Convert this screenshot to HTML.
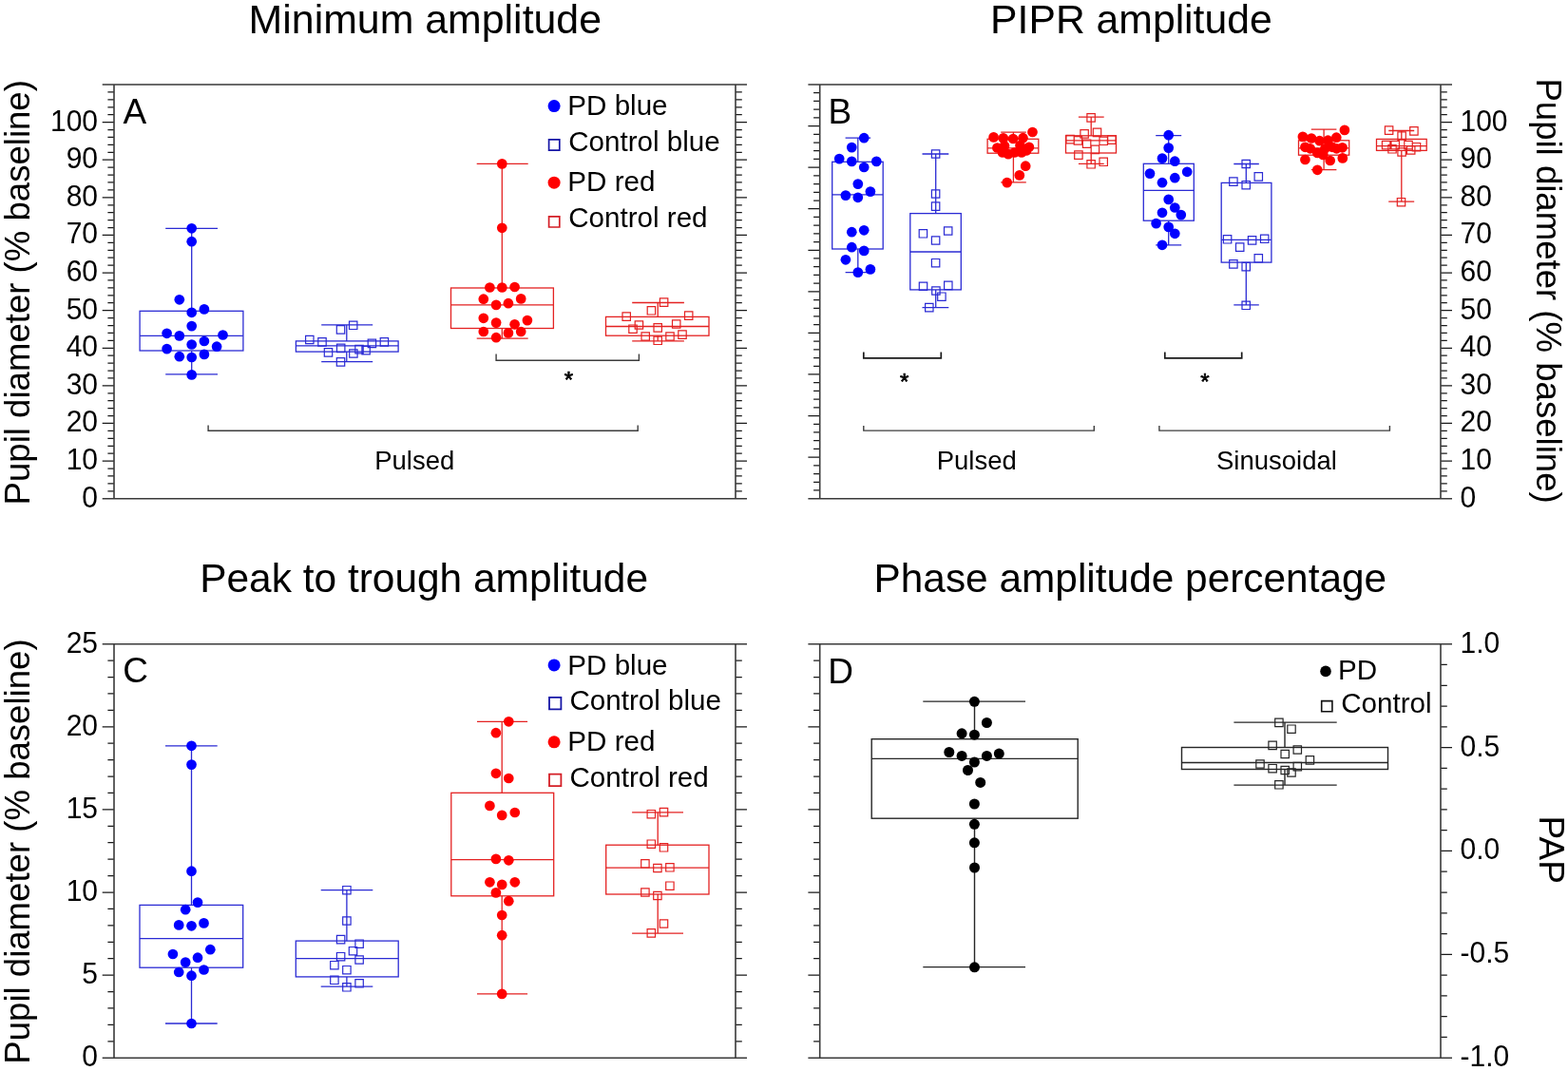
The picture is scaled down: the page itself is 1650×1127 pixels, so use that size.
<!DOCTYPE html>
<html><head><meta charset="utf-8"><title>Pupil figure</title>
<style>html,body{margin:0;padding:0;background:#fff;}svg{display:block;}</style></head>
<body><svg width="1650" height="1127" viewBox="0 0 1650 1127" font-family="'Liberation Sans', Arial, sans-serif" fill="#000">
<rect width="1650" height="1127" fill="#fff"/>
<text x="261.6" y="35.0" font-size="42.85">Minimum amplitude</text>
<text x="1042.1" y="34.9" font-size="42.7">PIPR amplitude</text>
<text x="210.2" y="623.3" font-size="42.45">Peak to trough amplitude</text>
<text x="919.5" y="623.1" font-size="42.4">Phase amplitude percentage</text>
<text x="129.4" y="130.0" font-size="37">A</text>
<text x="871.4" y="130.0" font-size="37">B</text>
<text x="129.2" y="718.2" font-size="37">C</text>
<text x="871.3" y="718.7" font-size="37">D</text>
<path d="M107.70 128.61H120.00M107.70 168.22H120.00M107.70 207.83H120.00M107.70 247.44H120.00M107.70 287.05H120.00M107.70 326.65H120.00M107.70 366.26H120.00M107.70 405.87H120.00M107.70 445.48H120.00M107.70 485.09H120.00M113.40 96.92H120.00M113.40 104.84H120.00M113.40 112.77H120.00M113.40 120.69H120.00M113.40 136.53H120.00M113.40 144.45H120.00M113.40 152.37H120.00M113.40 160.30H120.00M113.40 176.14H120.00M113.40 184.06H120.00M113.40 191.98H120.00M113.40 199.91H120.00M113.40 215.75H120.00M113.40 223.67H120.00M113.40 231.59H120.00M113.40 239.51H120.00M113.40 255.36H120.00M113.40 263.28H120.00M113.40 271.20H120.00M113.40 279.12H120.00M113.40 294.97H120.00M113.40 302.89H120.00M113.40 310.81H120.00M113.40 318.73H120.00M113.40 334.58H120.00M113.40 342.50H120.00M113.40 350.42H120.00M113.40 358.34H120.00M113.40 374.19H120.00M113.40 382.11H120.00M113.40 390.03H120.00M113.40 397.95H120.00M113.40 413.79H120.00M113.40 421.72H120.00M113.40 429.64H120.00M113.40 437.56H120.00M113.40 453.40H120.00M113.40 461.33H120.00M113.40 469.25H120.00M113.40 477.17H120.00M113.40 493.01H120.00M113.40 500.93H120.00M113.40 508.86H120.00M113.40 516.78H120.00M774.00 128.61H786.00M774.00 168.22H786.00M774.00 207.83H786.00M774.00 247.44H786.00M774.00 287.05H786.00M774.00 326.65H786.00M774.00 366.26H786.00M774.00 405.87H786.00M774.00 445.48H786.00M774.00 485.09H786.00M774.00 96.92H780.80M774.00 104.84H780.80M774.00 112.77H780.80M774.00 120.69H780.80M774.00 136.53H780.80M774.00 144.45H780.80M774.00 152.37H780.80M774.00 160.30H780.80M774.00 176.14H780.80M774.00 184.06H780.80M774.00 191.98H780.80M774.00 199.91H780.80M774.00 215.75H780.80M774.00 223.67H780.80M774.00 231.59H780.80M774.00 239.51H780.80M774.00 255.36H780.80M774.00 263.28H780.80M774.00 271.20H780.80M774.00 279.12H780.80M774.00 294.97H780.80M774.00 302.89H780.80M774.00 310.81H780.80M774.00 318.73H780.80M774.00 334.58H780.80M774.00 342.50H780.80M774.00 350.42H780.80M774.00 358.34H780.80M774.00 374.19H780.80M774.00 382.11H780.80M774.00 390.03H780.80M774.00 397.95H780.80M774.00 413.79H780.80M774.00 421.72H780.80M774.00 429.64H780.80M774.00 437.56H780.80M774.00 453.40H780.80M774.00 461.33H780.80M774.00 469.25H780.80M774.00 477.17H780.80M774.00 493.01H780.80M774.00 500.93H780.80M774.00 508.86H780.80M774.00 516.78H780.80" stroke="#1a1a1a" stroke-width="1.25" fill="none"/>
<path d="M107.70 89.00H786.00M107.70 524.70H786.00M120.00 89.00V524.70M774.00 89.00V524.70" stroke="#3a3a3a" stroke-width="1.6" fill="none"/>
<path d="M850.40 132.57H862.70M850.40 176.14H862.70M850.40 219.71H862.70M850.40 263.28H862.70M850.40 306.85H862.70M850.40 350.42H862.70M850.40 393.99H862.70M850.40 437.56H862.70M850.40 481.13H862.70M856.10 97.71H862.70M856.10 106.43H862.70M856.10 115.14H862.70M856.10 123.86H862.70M856.10 141.28H862.70M856.10 150.00H862.70M856.10 158.71H862.70M856.10 167.43H862.70M856.10 184.85H862.70M856.10 193.57H862.70M856.10 202.28H862.70M856.10 211.00H862.70M856.10 228.42H862.70M856.10 237.14H862.70M856.10 245.85H862.70M856.10 254.57H862.70M856.10 271.99H862.70M856.10 280.71H862.70M856.10 289.42H862.70M856.10 298.14H862.70M856.10 315.56H862.70M856.10 324.28H862.70M856.10 332.99H862.70M856.10 341.71H862.70M856.10 359.13H862.70M856.10 367.85H862.70M856.10 376.56H862.70M856.10 385.28H862.70M856.10 402.70H862.70M856.10 411.42H862.70M856.10 420.13H862.70M856.10 428.85H862.70M856.10 446.27H862.70M856.10 454.99H862.70M856.10 463.70H862.70M856.10 472.42H862.70M856.10 489.84H862.70M856.10 498.56H862.70M856.10 507.27H862.70M856.10 515.99H862.70M1516.00 128.61H1528.00M1516.00 168.22H1528.00M1516.00 207.83H1528.00M1516.00 247.44H1528.00M1516.00 287.05H1528.00M1516.00 326.65H1528.00M1516.00 366.26H1528.00M1516.00 405.87H1528.00M1516.00 445.48H1528.00M1516.00 485.09H1528.00M1516.00 96.92H1522.80M1516.00 104.84H1522.80M1516.00 112.77H1522.80M1516.00 120.69H1522.80M1516.00 136.53H1522.80M1516.00 144.45H1522.80M1516.00 152.37H1522.80M1516.00 160.30H1522.80M1516.00 176.14H1522.80M1516.00 184.06H1522.80M1516.00 191.98H1522.80M1516.00 199.91H1522.80M1516.00 215.75H1522.80M1516.00 223.67H1522.80M1516.00 231.59H1522.80M1516.00 239.51H1522.80M1516.00 255.36H1522.80M1516.00 263.28H1522.80M1516.00 271.20H1522.80M1516.00 279.12H1522.80M1516.00 294.97H1522.80M1516.00 302.89H1522.80M1516.00 310.81H1522.80M1516.00 318.73H1522.80M1516.00 334.58H1522.80M1516.00 342.50H1522.80M1516.00 350.42H1522.80M1516.00 358.34H1522.80M1516.00 374.19H1522.80M1516.00 382.11H1522.80M1516.00 390.03H1522.80M1516.00 397.95H1522.80M1516.00 413.79H1522.80M1516.00 421.72H1522.80M1516.00 429.64H1522.80M1516.00 437.56H1522.80M1516.00 453.40H1522.80M1516.00 461.33H1522.80M1516.00 469.25H1522.80M1516.00 477.17H1522.80M1516.00 493.01H1522.80M1516.00 500.93H1522.80M1516.00 508.86H1522.80M1516.00 516.78H1522.80" stroke="#1a1a1a" stroke-width="1.25" fill="none"/>
<path d="M850.40 89.00H1528.00M850.40 524.70H1528.00M862.70 89.00V524.70M1516.00 89.00V524.70" stroke="#3a3a3a" stroke-width="1.6" fill="none"/>
<path d="M107.70 764.80H120.00M107.70 851.90H120.00M107.70 939.00H120.00M107.70 1026.10H120.00M113.40 695.12H120.00M113.40 712.54H120.00M113.40 729.96H120.00M113.40 747.38H120.00M113.40 782.22H120.00M113.40 799.64H120.00M113.40 817.06H120.00M113.40 834.48H120.00M113.40 869.32H120.00M113.40 886.74H120.00M113.40 904.16H120.00M113.40 921.58H120.00M113.40 956.42H120.00M113.40 973.84H120.00M113.40 991.26H120.00M113.40 1008.68H120.00M113.40 1043.52H120.00M113.40 1060.94H120.00M113.40 1078.36H120.00M113.40 1095.78H120.00M774.00 764.80H786.00M774.00 851.90H786.00M774.00 939.00H786.00M774.00 1026.10H786.00M774.00 695.12H780.80M774.00 712.54H780.80M774.00 729.96H780.80M774.00 747.38H780.80M774.00 782.22H780.80M774.00 799.64H780.80M774.00 817.06H780.80M774.00 834.48H780.80M774.00 869.32H780.80M774.00 886.74H780.80M774.00 904.16H780.80M774.00 921.58H780.80M774.00 956.42H780.80M774.00 973.84H780.80M774.00 991.26H780.80M774.00 1008.68H780.80M774.00 1043.52H780.80M774.00 1060.94H780.80M774.00 1078.36H780.80M774.00 1095.78H780.80" stroke="#1a1a1a" stroke-width="1.25" fill="none"/>
<path d="M107.70 677.70H786.00M107.70 1113.20H786.00M120.00 677.70V1113.20M774.00 677.70V1113.20" stroke="#3a3a3a" stroke-width="1.6" fill="none"/>
<path d="M850.40 764.80H862.70M850.40 851.90H862.70M850.40 939.00H862.70M850.40 1026.10H862.70M856.10 695.12H862.70M856.10 712.54H862.70M856.10 729.96H862.70M856.10 747.38H862.70M856.10 782.22H862.70M856.10 799.64H862.70M856.10 817.06H862.70M856.10 834.48H862.70M856.10 869.32H862.70M856.10 886.74H862.70M856.10 904.16H862.70M856.10 921.58H862.70M856.10 956.42H862.70M856.10 973.84H862.70M856.10 991.26H862.70M856.10 1008.68H862.70M856.10 1043.52H862.70M856.10 1060.94H862.70M856.10 1078.36H862.70M856.10 1095.78H862.70M1516.00 786.58H1528.00M1516.00 895.45H1528.00M1516.00 1004.33H1528.00M1516.00 699.48H1522.80M1516.00 721.25H1522.80M1516.00 743.03H1522.80M1516.00 764.80H1522.80M1516.00 808.35H1522.80M1516.00 830.12H1522.80M1516.00 851.90H1522.80M1516.00 873.68H1522.80M1516.00 917.23H1522.80M1516.00 939.00H1522.80M1516.00 960.78H1522.80M1516.00 982.55H1522.80M1516.00 1026.10H1522.80M1516.00 1047.88H1522.80M1516.00 1069.65H1522.80M1516.00 1091.42H1522.80" stroke="#1a1a1a" stroke-width="1.25" fill="none"/>
<path d="M850.40 677.70H1528.00M850.40 1113.20H1528.00M862.70 677.70V1113.20M1516.00 677.70V1113.20" stroke="#3a3a3a" stroke-width="1.6" fill="none"/>
<text transform="translate(103.0,533.70) scale(1,1.06)" font-size="30" text-anchor="end">0</text>
<text transform="translate(1536.5,533.70) scale(1,1.06)" font-size="30">0</text>
<text transform="translate(103.0,494.09) scale(1,1.06)" font-size="30" text-anchor="end">10</text>
<text transform="translate(1536.5,494.09) scale(1,1.06)" font-size="30">10</text>
<text transform="translate(103.0,454.48) scale(1,1.06)" font-size="30" text-anchor="end">20</text>
<text transform="translate(1536.5,454.48) scale(1,1.06)" font-size="30">20</text>
<text transform="translate(103.0,414.87) scale(1,1.06)" font-size="30" text-anchor="end">30</text>
<text transform="translate(1536.5,414.87) scale(1,1.06)" font-size="30">30</text>
<text transform="translate(103.0,375.26) scale(1,1.06)" font-size="30" text-anchor="end">40</text>
<text transform="translate(1536.5,375.26) scale(1,1.06)" font-size="30">40</text>
<text transform="translate(103.0,335.65) scale(1,1.06)" font-size="30" text-anchor="end">50</text>
<text transform="translate(1536.5,335.65) scale(1,1.06)" font-size="30">50</text>
<text transform="translate(103.0,296.05) scale(1,1.06)" font-size="30" text-anchor="end">60</text>
<text transform="translate(1536.5,296.05) scale(1,1.06)" font-size="30">60</text>
<text transform="translate(103.0,256.44) scale(1,1.06)" font-size="30" text-anchor="end">70</text>
<text transform="translate(1536.5,256.44) scale(1,1.06)" font-size="30">70</text>
<text transform="translate(103.0,216.83) scale(1,1.06)" font-size="30" text-anchor="end">80</text>
<text transform="translate(1536.5,216.83) scale(1,1.06)" font-size="30">80</text>
<text transform="translate(103.0,177.22) scale(1,1.06)" font-size="30" text-anchor="end">90</text>
<text transform="translate(1536.5,177.22) scale(1,1.06)" font-size="30">90</text>
<text transform="translate(103.0,137.61) scale(1,1.06)" font-size="30" text-anchor="end">100</text>
<text transform="translate(1536.5,137.61) scale(1,1.06)" font-size="30">100</text>
<text transform="translate(103.0,1122.20) scale(1,1.06)" font-size="30" text-anchor="end">0</text>
<text transform="translate(103.0,1035.10) scale(1,1.06)" font-size="30" text-anchor="end">5</text>
<text transform="translate(103.0,948.00) scale(1,1.06)" font-size="30" text-anchor="end">10</text>
<text transform="translate(103.0,860.90) scale(1,1.06)" font-size="30" text-anchor="end">15</text>
<text transform="translate(103.0,773.80) scale(1,1.06)" font-size="30" text-anchor="end">20</text>
<text transform="translate(103.0,686.70) scale(1,1.06)" font-size="30" text-anchor="end">25</text>
<text transform="translate(1536.5,686.70) scale(1,1.06)" font-size="30">1.0</text>
<text transform="translate(1536.5,795.58) scale(1,1.06)" font-size="30">0.5</text>
<text transform="translate(1536.5,904.45) scale(1,1.06)" font-size="30">0.0</text>
<text transform="translate(1536.5,1013.33) scale(1,1.06)" font-size="30">-0.5</text>
<text transform="translate(1536.5,1122.20) scale(1,1.06)" font-size="30">-1.0</text>
<text transform="translate(30.9,531.4) rotate(-90)" font-size="36.6">Pupil diameter (% baseline)</text>
<text transform="translate(30.9,1119.7) rotate(-90)" font-size="36.6">Pupil diameter (% baseline)</text>
<text transform="translate(1617.1,82.4) rotate(90)" font-size="36.6">Pupil diameter (% baseline)</text>
<text transform="translate(1619.7,858.6) rotate(90)" font-size="37">PAP</text>
<path d="M201.70 240.30V327.30M201.70 369.00V393.90M174.20 240.30H229.00M174.20 393.90H229.00M147.10 353.40H255.90" stroke="#2b2bd4" stroke-width="1.3" fill="none"/>
<rect x="147.10" y="327.30" width="108.80" height="41.70" stroke="#2b2bd4" stroke-width="1.3" fill="none"/>
<circle cx="201.7" cy="240.3" r="5.35" fill="#0000ff"/>
<circle cx="201.7" cy="254.2" r="5.35" fill="#0000ff"/>
<circle cx="188.8" cy="315.3" r="5.35" fill="#0000ff"/>
<circle cx="201.7" cy="328.8" r="5.35" fill="#0000ff"/>
<circle cx="214.9" cy="325.4" r="5.35" fill="#0000ff"/>
<circle cx="201.7" cy="343.1" r="5.35" fill="#0000ff"/>
<circle cx="175.6" cy="350.8" r="5.35" fill="#0000ff"/>
<circle cx="188.8" cy="353.4" r="5.35" fill="#0000ff"/>
<circle cx="234.5" cy="352.5" r="5.35" fill="#0000ff"/>
<circle cx="214.9" cy="359.0" r="5.35" fill="#0000ff"/>
<circle cx="201.7" cy="362.5" r="5.35" fill="#0000ff"/>
<circle cx="228.1" cy="364.7" r="5.35" fill="#0000ff"/>
<circle cx="175.6" cy="367.1" r="5.35" fill="#0000ff"/>
<circle cx="188.8" cy="375.2" r="5.35" fill="#0000ff"/>
<circle cx="201.7" cy="376.0" r="5.35" fill="#0000ff"/>
<circle cx="214.9" cy="372.9" r="5.35" fill="#0000ff"/>
<circle cx="201.7" cy="394.4" r="5.35" fill="#0000ff"/>
<path d="M364.80 341.90V358.90M364.80 370.10V380.70M338.20 341.90H392.20M338.20 380.70H392.20M311.40 363.80H419.10" stroke="#2b2bd4" stroke-width="1.3" fill="none"/>
<rect x="311.40" y="358.90" width="107.70" height="11.20" stroke="#2b2bd4" stroke-width="1.3" fill="none"/>
<path d="M367.50 338.10h8.4v8.4h-8.4zM354.30 342.70h8.4v8.4h-8.4zM321.60 353.30h8.4v8.4h-8.4zM334.80 355.70h8.4v8.4h-8.4zM387.20 357.20h8.4v8.4h-8.4zM400.20 355.70h8.4v8.4h-8.4zM354.50 362.20h8.4v8.4h-8.4zM373.80 363.40h8.4v8.4h-8.4zM380.90 364.50h8.4v8.4h-8.4zM341.30 366.70h8.4v8.4h-8.4zM367.70 367.80h8.4v8.4h-8.4zM354.30 376.70h8.4v8.4h-8.4z" stroke="#2b2bd4" stroke-width="1.2" fill="none"/>
<path d="M528.30 172.40V303.00M528.30 345.50V356.20M501.70 172.40H555.70M501.70 356.20H555.70M474.50 320.90H582.40" stroke="#e42222" stroke-width="1.3" fill="none"/>
<rect x="474.50" y="303.00" width="107.90" height="42.50" stroke="#e42222" stroke-width="1.3" fill="none"/>
<circle cx="528.3" cy="172.4" r="5.35" fill="#ff0000"/>
<circle cx="528.3" cy="239.8" r="5.35" fill="#ff0000"/>
<circle cx="515.4" cy="302.5" r="5.35" fill="#ff0000"/>
<circle cx="528.3" cy="302.5" r="5.35" fill="#ff0000"/>
<circle cx="541.6" cy="302.0" r="5.35" fill="#ff0000"/>
<circle cx="508.8" cy="314.7" r="5.35" fill="#ff0000"/>
<circle cx="548.2" cy="314.4" r="5.35" fill="#ff0000"/>
<circle cx="522.1" cy="320.9" r="5.35" fill="#ff0000"/>
<circle cx="534.9" cy="319.2" r="5.35" fill="#ff0000"/>
<circle cx="508.8" cy="334.8" r="5.35" fill="#ff0000"/>
<circle cx="522.1" cy="339.6" r="5.35" fill="#ff0000"/>
<circle cx="541.6" cy="341.3" r="5.35" fill="#ff0000"/>
<circle cx="554.9" cy="337.1" r="5.35" fill="#ff0000"/>
<circle cx="508.8" cy="349.0" r="5.35" fill="#ff0000"/>
<circle cx="534.9" cy="350.4" r="5.35" fill="#ff0000"/>
<circle cx="548.2" cy="349.0" r="5.35" fill="#ff0000"/>
<circle cx="522.1" cy="355.2" r="5.35" fill="#ff0000"/>
<path d="M692.20 318.50V333.40M692.20 353.20V358.90M665.20 318.50H719.90M665.20 358.90H719.90M637.50 343.50H746.00" stroke="#e42222" stroke-width="1.3" fill="none"/>
<rect x="637.50" y="333.40" width="108.50" height="19.80" stroke="#e42222" stroke-width="1.3" fill="none"/>
<path d="M694.40 313.90h8.4v8.4h-8.4zM681.20 322.60h8.4v8.4h-8.4zM655.00 328.90h8.4v8.4h-8.4zM720.50 327.90h8.4v8.4h-8.4zM668.20 337.80h8.4v8.4h-8.4zM661.80 342.00h8.4v8.4h-8.4zM688.00 340.70h8.4v8.4h-8.4zM707.50 336.80h8.4v8.4h-8.4zM675.00 349.80h8.4v8.4h-8.4zM688.00 354.10h8.4v8.4h-8.4zM700.80 349.80h8.4v8.4h-8.4zM713.80 347.90h8.4v8.4h-8.4z" stroke="#e42222" stroke-width="1.2" fill="none"/>
<path d="M902.80 145.20V170.30M902.80 262.00V286.60M889.60 145.20H916.20M889.60 286.60H916.20M875.70 204.80H929.20" stroke="#2b2bd4" stroke-width="1.3" fill="none"/>
<rect x="875.70" y="170.30" width="53.50" height="91.70" stroke="#2b2bd4" stroke-width="1.3" fill="none"/>
<circle cx="909.2" cy="145.2" r="5.35" fill="#0000ff"/>
<circle cx="896.3" cy="155.1" r="5.35" fill="#0000ff"/>
<circle cx="883.2" cy="167.1" r="5.35" fill="#0000ff"/>
<circle cx="896.3" cy="169.9" r="5.35" fill="#0000ff"/>
<circle cx="922.3" cy="169.9" r="5.35" fill="#0000ff"/>
<circle cx="909.2" cy="176.0" r="5.35" fill="#0000ff"/>
<circle cx="902.8" cy="193.6" r="5.35" fill="#0000ff"/>
<circle cx="889.9" cy="205.6" r="5.35" fill="#0000ff"/>
<circle cx="902.8" cy="207.8" r="5.35" fill="#0000ff"/>
<circle cx="915.9" cy="201.6" r="5.35" fill="#0000ff"/>
<circle cx="896.3" cy="244.2" r="5.35" fill="#0000ff"/>
<circle cx="909.2" cy="242.3" r="5.35" fill="#0000ff"/>
<circle cx="896.3" cy="260.2" r="5.35" fill="#0000ff"/>
<circle cx="909.2" cy="263.9" r="5.35" fill="#0000ff"/>
<circle cx="889.9" cy="273.3" r="5.35" fill="#0000ff"/>
<circle cx="902.8" cy="286.6" r="5.35" fill="#0000ff"/>
<circle cx="915.9" cy="283.4" r="5.35" fill="#0000ff"/>
<path d="M984.70 162.00V224.60M984.70 304.90V323.60M970.50 162.00H998.30M970.50 323.60H998.30M957.80 265.00H1011.30" stroke="#2b2bd4" stroke-width="1.3" fill="none"/>
<rect x="957.80" y="224.60" width="53.50" height="80.30" stroke="#2b2bd4" stroke-width="1.3" fill="none"/>
<path d="M980.40 157.80h8.4v8.4h-8.4zM980.40 199.80h8.4v8.4h-8.4zM980.40 212.90h8.4v8.4h-8.4zM967.20 241.60h8.4v8.4h-8.4zM993.50 238.80h8.4v8.4h-8.4zM980.40 248.80h8.4v8.4h-8.4zM980.40 272.50h8.4v8.4h-8.4zM967.30 297.10h8.4v8.4h-8.4zM993.60 296.20h8.4v8.4h-8.4zM980.70 301.80h8.4v8.4h-8.4zM986.70 308.00h8.4v8.4h-8.4zM973.60 319.40h8.4v8.4h-8.4z" stroke="#2b2bd4" stroke-width="1.2" fill="none"/>
<path d="M1066.40 139.20V146.30M1066.40 161.20V191.90M1053.20 139.20H1079.80M1053.20 191.90H1079.80M1039.10 155.80H1092.80" stroke="#e42222" stroke-width="1.3" fill="none"/>
<rect x="1039.10" y="146.30" width="53.70" height="14.90" stroke="#e42222" stroke-width="1.3" fill="none"/>
<circle cx="1086.5" cy="139.0" r="5.35" fill="#ff0000"/>
<circle cx="1045.6" cy="144.4" r="5.35" fill="#ff0000"/>
<circle cx="1055.8" cy="145.4" r="5.35" fill="#ff0000"/>
<circle cx="1066.1" cy="146.0" r="5.35" fill="#ff0000"/>
<circle cx="1076.5" cy="145.2" r="5.35" fill="#ff0000"/>
<circle cx="1049.4" cy="155.5" r="5.35" fill="#ff0000"/>
<circle cx="1082.9" cy="154.8" r="5.35" fill="#ff0000"/>
<circle cx="1057.0" cy="153.5" r="5.35" fill="#ff0000"/>
<circle cx="1073.5" cy="153.0" r="5.35" fill="#ff0000"/>
<circle cx="1055.0" cy="160.5" r="5.35" fill="#ff0000"/>
<circle cx="1061.0" cy="162.2" r="5.35" fill="#ff0000"/>
<circle cx="1067.5" cy="160.5" r="5.35" fill="#ff0000"/>
<circle cx="1075.0" cy="160.5" r="5.35" fill="#ff0000"/>
<circle cx="1080.0" cy="158.5" r="5.35" fill="#ff0000"/>
<circle cx="1079.2" cy="174.7" r="5.35" fill="#ff0000"/>
<circle cx="1072.8" cy="184.4" r="5.35" fill="#ff0000"/>
<circle cx="1059.7" cy="192.1" r="5.35" fill="#ff0000"/>
<path d="M1148.20 123.20V142.80M1148.20 161.00V172.30M1134.90 123.20H1161.70M1134.90 172.30H1161.70M1121.50 147.90H1174.50" stroke="#e42222" stroke-width="1.3" fill="none"/>
<rect x="1121.50" y="142.80" width="53.00" height="18.20" stroke="#e42222" stroke-width="1.3" fill="none"/>
<path d="M1143.90 119.70h8.4v8.4h-8.4zM1136.90 136.70h8.4v8.4h-8.4zM1150.30 135.20h8.4v8.4h-8.4zM1121.90 142.40h8.4v8.4h-8.4zM1130.20 143.70h8.4v8.4h-8.4zM1139.40 147.00h8.4v8.4h-8.4zM1157.00 144.10h8.4v8.4h-8.4zM1165.70 142.90h8.4v8.4h-8.4zM1148.20 153.20h8.4v8.4h-8.4zM1130.70 158.90h8.4v8.4h-8.4zM1143.90 168.60h8.4v8.4h-8.4zM1157.00 166.10h8.4v8.4h-8.4z" stroke="#e42222" stroke-width="1.2" fill="none"/>
<path d="M1229.70 142.60V172.30M1229.70 232.20V257.80M1216.20 142.60H1243.20M1216.20 257.80H1243.20M1203.30 200.30H1256.30" stroke="#2b2bd4" stroke-width="1.3" fill="none"/>
<rect x="1203.30" y="172.30" width="53.00" height="59.90" stroke="#2b2bd4" stroke-width="1.3" fill="none"/>
<circle cx="1229.7" cy="142.2" r="5.35" fill="#0000ff"/>
<circle cx="1229.7" cy="155.6" r="5.35" fill="#0000ff"/>
<circle cx="1223.0" cy="166.6" r="5.35" fill="#0000ff"/>
<circle cx="1236.3" cy="169.7" r="5.35" fill="#0000ff"/>
<circle cx="1210.0" cy="182.6" r="5.35" fill="#0000ff"/>
<circle cx="1249.2" cy="180.8" r="5.35" fill="#0000ff"/>
<circle cx="1236.3" cy="187.2" r="5.35" fill="#0000ff"/>
<circle cx="1223.0" cy="192.2" r="5.35" fill="#0000ff"/>
<circle cx="1229.7" cy="209.9" r="5.35" fill="#0000ff"/>
<circle cx="1236.3" cy="218.5" r="5.35" fill="#0000ff"/>
<circle cx="1223.0" cy="223.8" r="5.35" fill="#0000ff"/>
<circle cx="1242.8" cy="226.1" r="5.35" fill="#0000ff"/>
<circle cx="1216.6" cy="235.1" r="5.35" fill="#0000ff"/>
<circle cx="1229.7" cy="238.9" r="5.35" fill="#0000ff"/>
<circle cx="1236.3" cy="245.8" r="5.35" fill="#0000ff"/>
<circle cx="1223.0" cy="257.8" r="5.35" fill="#0000ff"/>
<path d="M1311.30 172.50V192.40M1311.30 276.10V320.80M1298.30 172.50H1324.80M1298.30 320.80H1324.80M1285.20 252.30H1337.90" stroke="#2b2bd4" stroke-width="1.3" fill="none"/>
<rect x="1285.20" y="192.40" width="52.70" height="83.70" stroke="#2b2bd4" stroke-width="1.3" fill="none"/>
<path d="M1307.00 168.30h8.4v8.4h-8.4zM1293.70 186.90h8.4v8.4h-8.4zM1307.00 190.50h8.4v8.4h-8.4zM1320.10 181.70h8.4v8.4h-8.4zM1287.40 247.60h8.4v8.4h-8.4zM1300.50 255.90h8.4v8.4h-8.4zM1313.40 248.70h8.4v8.4h-8.4zM1326.50 247.10h8.4v8.4h-8.4zM1320.10 267.60h8.4v8.4h-8.4zM1293.70 273.70h8.4v8.4h-8.4zM1307.00 276.40h8.4v8.4h-8.4zM1307.00 317.10h8.4v8.4h-8.4z" stroke="#2b2bd4" stroke-width="1.2" fill="none"/>
<path d="M1393.10 136.10V147.80M1393.10 163.20V178.70M1379.80 136.10H1406.40M1379.80 178.70H1406.40M1366.50 155.80H1419.70" stroke="#e42222" stroke-width="1.3" fill="none"/>
<rect x="1366.50" y="147.80" width="53.20" height="15.40" stroke="#e42222" stroke-width="1.3" fill="none"/>
<circle cx="1414.9" cy="136.9" r="5.35" fill="#ff0000"/>
<circle cx="1370.9" cy="143.9" r="5.35" fill="#ff0000"/>
<circle cx="1380.0" cy="145.5" r="5.35" fill="#ff0000"/>
<circle cx="1388.6" cy="148.2" r="5.35" fill="#ff0000"/>
<circle cx="1397.4" cy="147.7" r="5.35" fill="#ff0000"/>
<circle cx="1406.3" cy="144.7" r="5.35" fill="#ff0000"/>
<circle cx="1373.4" cy="154.8" r="5.35" fill="#ff0000"/>
<circle cx="1378.7" cy="156.3" r="5.35" fill="#ff0000"/>
<circle cx="1386.3" cy="160.9" r="5.35" fill="#ff0000"/>
<circle cx="1394.4" cy="156.3" r="5.35" fill="#ff0000"/>
<circle cx="1402.0" cy="154.8" r="5.35" fill="#ff0000"/>
<circle cx="1412.6" cy="155.3" r="5.35" fill="#ff0000"/>
<circle cx="1406.5" cy="156.3" r="5.35" fill="#ff0000"/>
<circle cx="1392.3" cy="162.9" r="5.35" fill="#ff0000"/>
<circle cx="1373.4" cy="168.0" r="5.35" fill="#ff0000"/>
<circle cx="1399.7" cy="169.0" r="5.35" fill="#ff0000"/>
<circle cx="1412.8" cy="166.4" r="5.35" fill="#ff0000"/>
<circle cx="1386.3" cy="178.8" r="5.35" fill="#ff0000"/>
<path d="M1474.80 137.50V146.40M1474.80 158.40V212.20M1461.20 137.50H1488.20M1461.20 212.20H1488.20M1448.50 153.60H1501.20" stroke="#e42222" stroke-width="1.3" fill="none"/>
<rect x="1448.50" y="146.40" width="52.70" height="12.00" stroke="#e42222" stroke-width="1.3" fill="none"/>
<path d="M1457.40 132.90h8.4v8.4h-8.4zM1483.70 133.70h8.4v8.4h-8.4zM1470.90 138.80h8.4v8.4h-8.4zM1454.40 148.40h8.4v8.4h-8.4zM1464.00 148.40h8.4v8.4h-8.4zM1477.80 148.40h8.4v8.4h-8.4zM1486.30 150.50h8.4v8.4h-8.4zM1460.80 152.60h8.4v8.4h-8.4zM1470.90 155.80h8.4v8.4h-8.4zM1480.50 153.70h8.4v8.4h-8.4zM1470.30 208.50h8.4v8.4h-8.4z" stroke="#e42222" stroke-width="1.2" fill="none"/>
<path d="M201.50 784.80V952.40M201.50 1018.20V1077.00M174.00 784.80H228.70M174.00 1077.00H228.70M147.00 987.60H255.70" stroke="#2b2bd4" stroke-width="1.3" fill="none"/>
<rect x="147.00" y="952.40" width="108.70" height="65.80" stroke="#2b2bd4" stroke-width="1.3" fill="none"/>
<circle cx="201.5" cy="784.8" r="5.35" fill="#0000ff"/>
<circle cx="201.5" cy="804.6" r="5.35" fill="#0000ff"/>
<circle cx="201.5" cy="916.7" r="5.35" fill="#0000ff"/>
<circle cx="208.0" cy="949.6" r="5.35" fill="#0000ff"/>
<circle cx="195.2" cy="957.2" r="5.35" fill="#0000ff"/>
<circle cx="188.2" cy="973.4" r="5.35" fill="#0000ff"/>
<circle cx="201.5" cy="974.3" r="5.35" fill="#0000ff"/>
<circle cx="214.5" cy="971.4" r="5.35" fill="#0000ff"/>
<circle cx="221.3" cy="999.2" r="5.35" fill="#0000ff"/>
<circle cx="181.9" cy="1004.0" r="5.35" fill="#0000ff"/>
<circle cx="195.2" cy="1012.6" r="5.35" fill="#0000ff"/>
<circle cx="208.0" cy="1007.7" r="5.35" fill="#0000ff"/>
<circle cx="188.2" cy="1023.0" r="5.35" fill="#0000ff"/>
<circle cx="201.5" cy="1026.7" r="5.35" fill="#0000ff"/>
<circle cx="214.5" cy="1020.5" r="5.35" fill="#0000ff"/>
<circle cx="201.5" cy="1077.0" r="5.35" fill="#0000ff"/>
<path d="M364.90 936.70V990.10M364.90 1027.90V1038.20M337.70 936.70H392.30M337.70 1038.20H392.30M311.30 1008.60H419.20" stroke="#2b2bd4" stroke-width="1.3" fill="none"/>
<rect x="311.30" y="990.10" width="107.90" height="37.80" stroke="#2b2bd4" stroke-width="1.3" fill="none"/>
<path d="M360.70 932.50h8.4v8.4h-8.4zM360.70 964.80h8.4v8.4h-8.4zM354.40 984.40h8.4v8.4h-8.4zM373.90 989.00h8.4v8.4h-8.4zM367.30 996.50h8.4v8.4h-8.4zM354.40 1002.50h8.4v8.4h-8.4zM373.90 1005.80h8.4v8.4h-8.4zM347.70 1011.50h8.4v8.4h-8.4zM360.70 1016.50h8.4v8.4h-8.4zM347.70 1027.10h8.4v8.4h-8.4zM373.90 1030.60h8.4v8.4h-8.4zM360.70 1034.60h8.4v8.4h-8.4z" stroke="#2b2bd4" stroke-width="1.2" fill="none"/>
<path d="M528.20 759.30V834.30M528.20 942.80V1045.90M502.00 759.30H555.10M502.00 1045.90H555.10M474.80 904.70H582.70" stroke="#e42222" stroke-width="1.3" fill="none"/>
<rect x="474.80" y="834.30" width="107.90" height="108.50" stroke="#e42222" stroke-width="1.3" fill="none"/>
<circle cx="535.3" cy="759.3" r="5.35" fill="#ff0000"/>
<circle cx="521.9" cy="771.2" r="5.35" fill="#ff0000"/>
<circle cx="521.9" cy="813.8" r="5.35" fill="#ff0000"/>
<circle cx="535.3" cy="819.0" r="5.35" fill="#ff0000"/>
<circle cx="515.4" cy="847.9" r="5.35" fill="#ff0000"/>
<circle cx="528.2" cy="857.9" r="5.35" fill="#ff0000"/>
<circle cx="541.8" cy="855.0" r="5.35" fill="#ff0000"/>
<circle cx="521.9" cy="903.9" r="5.35" fill="#ff0000"/>
<circle cx="535.3" cy="905.3" r="5.35" fill="#ff0000"/>
<circle cx="515.4" cy="928.3" r="5.35" fill="#ff0000"/>
<circle cx="528.2" cy="930.9" r="5.35" fill="#ff0000"/>
<circle cx="541.8" cy="928.3" r="5.35" fill="#ff0000"/>
<circle cx="521.9" cy="939.4" r="5.35" fill="#ff0000"/>
<circle cx="535.3" cy="948.2" r="5.35" fill="#ff0000"/>
<circle cx="528.2" cy="963.0" r="5.35" fill="#ff0000"/>
<circle cx="528.2" cy="984.2" r="5.35" fill="#ff0000"/>
<circle cx="528.2" cy="1045.9" r="5.35" fill="#ff0000"/>
<path d="M692.20 854.90V889.20M692.20 941.00V982.20M665.10 854.90H719.00M665.10 982.20H719.00M637.70 913.10H746.00" stroke="#e42222" stroke-width="1.3" fill="none"/>
<rect x="637.70" y="889.20" width="108.30" height="51.80" stroke="#e42222" stroke-width="1.3" fill="none"/>
<path d="M681.10 852.50h8.4v8.4h-8.4zM694.30 850.40h8.4v8.4h-8.4zM681.10 884.00h8.4v8.4h-8.4zM694.30 887.60h8.4v8.4h-8.4zM674.70 904.60h8.4v8.4h-8.4zM687.70 909.30h8.4v8.4h-8.4zM700.70 908.60h8.4v8.4h-8.4zM700.70 928.00h8.4v8.4h-8.4zM674.70 934.80h8.4v8.4h-8.4zM687.70 938.30h8.4v8.4h-8.4zM694.30 967.80h8.4v8.4h-8.4zM681.10 977.70h8.4v8.4h-8.4z" stroke="#e42222" stroke-width="1.2" fill="none"/>
<path d="M1025.50 738.10V777.70M1025.50 861.20V1017.60M971.30 738.10H1079.00M971.30 1017.60H1079.00M917.20 798.40H1134.20" stroke="#262626" stroke-width="1.4" fill="none"/>
<rect x="917.20" y="777.70" width="217.00" height="83.50" stroke="#262626" stroke-width="1.4" fill="none"/>
<circle cx="1025.4" cy="738.3" r="5.5" fill="#000000"/>
<circle cx="1038.4" cy="760.5" r="5.5" fill="#000000"/>
<circle cx="1012.1" cy="771.8" r="5.5" fill="#000000"/>
<circle cx="1025.4" cy="773.2" r="5.5" fill="#000000"/>
<circle cx="998.8" cy="791.5" r="5.5" fill="#000000"/>
<circle cx="1012.1" cy="795.4" r="5.5" fill="#000000"/>
<circle cx="1038.4" cy="795.4" r="5.5" fill="#000000"/>
<circle cx="1051.3" cy="793.1" r="5.5" fill="#000000"/>
<circle cx="1025.4" cy="802.0" r="5.5" fill="#000000"/>
<circle cx="1018.5" cy="810.5" r="5.5" fill="#000000"/>
<circle cx="1031.7" cy="823.4" r="5.5" fill="#000000"/>
<circle cx="1025.4" cy="846.0" r="5.5" fill="#000000"/>
<circle cx="1025.4" cy="867.3" r="5.5" fill="#000000"/>
<circle cx="1025.4" cy="886.8" r="5.5" fill="#000000"/>
<circle cx="1025.5" cy="913.0" r="5.5" fill="#000000"/>
<circle cx="1025.5" cy="1017.8" r="5.5" fill="#000000"/>
<path d="M1352.00 760.10V786.50M1352.00 809.50V826.10M1298.40 760.10H1406.70M1298.40 826.10H1406.70M1243.50 802.50H1460.50" stroke="#262626" stroke-width="1.4" fill="none"/>
<rect x="1243.50" y="786.50" width="217.00" height="23.00" stroke="#262626" stroke-width="1.4" fill="none"/>
<path d="M1341.70 756.20h8.4v8.4h-8.4zM1354.80 763.00h8.4v8.4h-8.4zM1334.90 780.20h8.4v8.4h-8.4zM1361.10 784.80h8.4v8.4h-8.4zM1348.00 789.30h8.4v8.4h-8.4zM1374.20 795.70h8.4v8.4h-8.4zM1321.80 799.80h8.4v8.4h-8.4zM1334.90 804.50h8.4v8.4h-8.4zM1361.10 802.40h8.4v8.4h-8.4zM1348.00 806.30h8.4v8.4h-8.4zM1354.80 808.80h8.4v8.4h-8.4zM1341.70 821.60h8.4v8.4h-8.4z" stroke="#262626" stroke-width="1.2" fill="none"/>
<path d="M522.1 372.4V379.2H672.4V372.4" stroke="#3c3c3c" stroke-width="1.4" fill="none"/>
<path d="M219.1 447.6V453.3H671.2V447.6" stroke="#3c3c3c" stroke-width="1.4" fill="none"/>
<path d="M908.8 370.5V376.9H990.3V370.5" stroke="#1a1a1a" stroke-width="1.7" fill="none"/>
<path d="M1225.8 370.5V376.9H1306.7V370.5" stroke="#1a1a1a" stroke-width="1.7" fill="none"/>
<path d="M908.8 447.9V453.1H1151.3V447.9" stroke="#3c3c3c" stroke-width="1.4" fill="none"/>
<path d="M1219.9 447.9V453.1H1462.4V447.9" stroke="#3c3c3c" stroke-width="1.4" fill="none"/>
<text x="593.7" y="407.6" font-size="24" stroke="#000" stroke-width="0.7">*</text>
<text x="947.0" y="409.7" font-size="24" stroke="#000" stroke-width="0.7">*</text>
<text x="1263.3" y="409.7" font-size="24" stroke="#000" stroke-width="0.7">*</text>
<text x="394.2" y="494.2" font-size="27.5">Pulsed</text>
<text x="985.7" y="494.3" font-size="27.5">Pulsed</text>
<text x="1280.0" y="494.3" font-size="27.5">Sinusoidal</text>
<circle cx="583.1" cy="111.6" r="6.5" fill="#0000ff"/>
<path d="M577.60 146.90h11.2v11.2h-11.2z" stroke="#1616a6" stroke-width="1.7" fill="none"/>
<circle cx="583.1" cy="192.2" r="6.5" fill="#ff0000"/>
<path d="M577.60 227.80h11.2v11.2h-11.2z" stroke="#d41e26" stroke-width="1.7" fill="none"/>
<text x="597.3" y="120.9" font-size="29.6">PD blue</text>
<text x="598.2" y="158.8" font-size="29.6">Control blue</text>
<text x="597.3" y="201.4" font-size="29.6">PD red</text>
<text x="598.2" y="239.3" font-size="29.6">Control red</text>
<circle cx="583.1" cy="699.9" r="6.5" fill="#0000ff"/>
<path d="M578.00 733.90h12.4v12.4h-12.4z" stroke="#1616a6" stroke-width="1.8" fill="none"/>
<circle cx="583.1" cy="780.8" r="6.5" fill="#ff0000"/>
<path d="M578.00 814.70h12.4v12.4h-12.4z" stroke="#d41e26" stroke-width="1.8" fill="none"/>
<text x="597.3" y="709.8" font-size="29.6">PD blue</text>
<text x="599.4" y="746.7" font-size="29.6">Control blue</text>
<text x="597.3" y="790.0" font-size="29.6">PD red</text>
<text x="599.4" y="828.3" font-size="29.6">Control red</text>
<circle cx="1395.0" cy="706.4" r="5.8" fill="#000000"/>
<path d="M1390.70 737.60h11.2v11.2h-11.2z" stroke="#111" stroke-width="1.6" fill="none"/>
<text x="1408.1" y="714.5" font-size="29.6">PD</text>
<text x="1411.2" y="749.5" font-size="29.6">Control</text>
</svg></body></html>
